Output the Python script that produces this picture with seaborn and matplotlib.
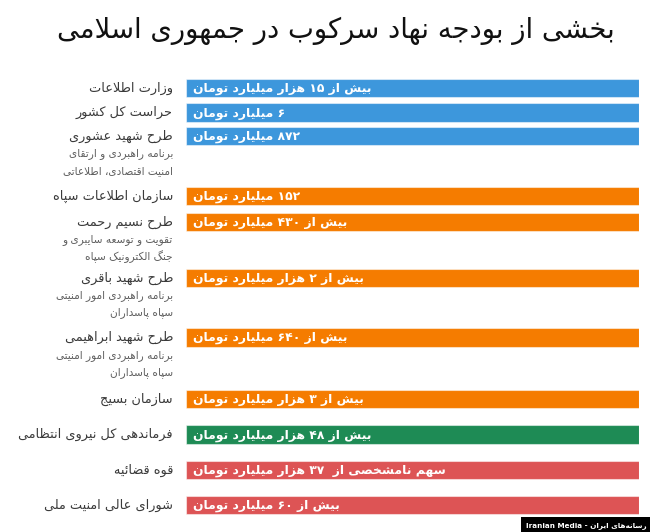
import numpy as np
import pandas as pd
import matplotlib
matplotlib.use("Agg")
import matplotlib.pyplot as plt
import seaborn as sns

# ---------------- data ----------------
title = "بخشی از بودجه نهاد سرکوب در جمهوری اسلامی"
organs = [
    "وزارت اطلاعات",
    "حراست کل کشور",
    "طرح شهید عشوری",
    "سازمان اطلاعات سپاه",
    "طرح نسیم رحمت",
    "طرح شهید باقری",
    "طرح شهید ابراهیمی",
    "سازمان بسیج",
    "فرماندهی کل نیروی انتظامی",
    "قوه قضائیه",
    "شورای عالی امنیت ملی",
]
notes = [
    [],
    [],
    ["برنامه راهبردی و ارتقای", "امنیت اقتصادی، اطلاعاتی"],
    [],
    ["تقویت و توسعه سایبری و", "جنگ الکترونیک سپاه"],
    ["برنامه راهبردی امور امنیتی", "سپاه پاسداران"],
    ["برنامه راهبردی امور امنیتی", "سپاه پاسداران"],
    [],
    [],
    [],
    [],
]
amounts = [
    "بیش از ۱۵ هزار میلیارد تومان",
    "۶ میلیارد تومان",
    "۸۷۲ میلیارد تومان",
    "۱۵۲ میلیارد تومان",
    "بیش از ۴۳۰ میلیارد تومان",
    "بیش از ۲ هزار میلیارد تومان",
    "بیش از ۶۴۰ میلیارد تومان",
    "بیش از ۳ هزار میلیارد تومان",
    "بیش از ۴۸ هزار میلیارد تومان",
    "سهم نامشخصی از  ۳۷ هزار میلیارد تومان",
    "بیش از ۶۰ میلیارد تومان",
]
groups = ["intel", "intel", "intel", "irgc", "irgc", "irgc", "irgc", "irgc",
          "police", "judiciary", "judiciary"]
bar_extent = [1, 1, 1, 1, 1, 1, 1, 1, 1, 1, 1]
credit_en = "Iranian Media"
credit_fa = "رسانه‌های ایران"

# ---------------- style / layout ----------------
palette = {"intel": "#3D97DC", "irgc": "#F57C00", "police": "#1E8B55", "judiciary": "#DD5455"}
W, H = 650, 532
first_center = 88
row_pitch = [24.5, 23.5, 60, 26, 56, 59.5, 61.5, 35.5, 35.5, 35]
bar_px = 18.5

# ---------------- minimal Persian shaping ----------------
_FORMS = {
    0x0621: (0xFE80, 1), 0x0622: (0xFE81, 2), 0x0623: (0xFE83, 2), 0x0624: (0xFE85, 2),
    0x0625: (0xFE87, 2), 0x0626: (0xFE89, 4), 0x0627: (0xFE8D, 2), 0x0628: (0xFE8F, 4),
    0x0629: (0xFE93, 2), 0x062A: (0xFE95, 4), 0x062B: (0xFE99, 4), 0x062C: (0xFE9D, 4),
    0x062D: (0xFEA1, 4), 0x062E: (0xFEA5, 4), 0x062F: (0xFEA9, 2), 0x0630: (0xFEAB, 2),
    0x0631: (0xFEAD, 2), 0x0632: (0xFEAF, 2), 0x0633: (0xFEB1, 4), 0x0634: (0xFEB5, 4),
    0x0635: (0xFEB9, 4), 0x0636: (0xFEBD, 4), 0x0637: (0xFEC1, 4), 0x0638: (0xFEC5, 4),
    0x0639: (0xFEC9, 4), 0x063A: (0xFECD, 4), 0x0641: (0xFED1, 4), 0x0642: (0xFED5, 4),
    0x0643: (0xFED9, 4), 0x0644: (0xFEDD, 4), 0x0645: (0xFEE1, 4), 0x0646: (0xFEE5, 4),
    0x0647: (0xFEE9, 4), 0x0648: (0xFEED, 2), 0x0649: (0xFEEF, 2), 0x064A: (0xFEF1, 4),
    0x067E: (0xFB56, 4), 0x0686: (0xFB7A, 4), 0x0698: (0xFB8A, 2), 0x06A9: (0xFB8E, 4),
    0x06AF: (0xFB92, 4), 0x06CC: (0xFBFC, 4),
}
_LAM_ALEF = {0x0627: 0xFEFB, 0x0622: 0xFEF5, 0x0623: 0xFEF7, 0x0625: 0xFEF9}


def _joining(c):
    return c is not None and ord(c) in _FORMS and _FORMS[ord(c)][1] >= 2


def _dual(c):
    return c is not None and ord(c) in _FORMS and _FORMS[ord(c)][1] == 4


def fa(s):
    chars = list(s)
    n = len(chars)
    out = []
    i = 0
    while i < n:
        c = chars[i]
        if ord(c) not in _FORMS:
            if c != "\u200c":
                out.append(c)
            i += 1
            continue
        prev = chars[i - 1] if i > 0 else None
        jp = _dual(prev) and _joining(c)
        if ord(c) == 0x0644 and i + 1 < n and ord(chars[i + 1]) in _LAM_ALEF:
            out.append(chr(_LAM_ALEF[ord(chars[i + 1])] + (1 if jp else 0)))
            i += 2
            continue
        nxt = chars[i + 1] if i + 1 < n else None
        jn = _dual(c) and _joining(nxt)
        base, k = _FORMS[ord(c)]
        if jp and jn:
            f = 3
        elif jp:
            f = 1
        elif jn:
            f = 2
        else:
            f = 0
        if f >= k:
            f = 1 if (jp and k >= 2) else 0
        out.append(chr(base + f))
        i += 1
    vis = out[::-1]
    # restore left-to-right order of digit runs
    res, run = [], []
    for ch in vis:
        if ch.isdigit():
            run.append(ch)
        else:
            if run:
                res.extend(run[::-1])
                run = []
            res.append(ch)
    if run:
        res.extend(run[::-1])
    return "".join(res)


# ---------------- figure ----------------
sns.set_theme(style="white")
plt.rcParams["font.family"] = ["DejaVu Sans"]

centers = np.concatenate([[first_center], first_center + np.cumsum(row_pitch)])
df = pd.DataFrame({"organ": organs, "extent": bar_extent, "pos": centers, "group": groups})

fig = plt.figure(figsize=(W / 100, H / 100), dpi=100)
ax = fig.add_axes([186 / W, 0, 453 / W, 1])
width = bar_px / np.min(np.diff(np.unique(centers)))
sns.barplot(data=df, x="extent", y="pos", hue="group", palette=palette, orient="y",
            native_scale=True, width=width, dodge=False, legend=False, ax=ax,
            saturation=1, edgecolor=(1, 1, 1, 0.5), linewidth=0.8)
ax.set_xlim(0, 1)
ax.set_ylim(H, 0)
ax.axis("off")

for y, amt in zip(centers, amounts):
    ax.text(0.016, y + 0.5, fa(amt), color="white", fontsize=8.9, fontweight="bold",
            ha="left", va="center")

lx = (173 - 186) / 453
for y, org, sub in zip(centers, organs, notes):
    ax.text(lx, y, fa(org), color="#3a3a3a", fontsize=9.3, ha="right", va="center",
            clip_on=False)
    for k, line in enumerate(sub):
        ax.text(lx, y + 18 + 17 * k, fa(line), color="#606060", fontsize=7.6,
                ha="right", va="center", clip_on=False)

fig.text(336 / W, 1 - 31 / H, fa(title), fontsize=19.8, color="#111111", ha="center", va="center")

fig.text(0.995, 0.006, credit_en + " - " + fa(credit_fa), fontsize=5.2, fontweight="bold",
         color="white", ha="right", va="bottom",
         bbox=dict(facecolor="black", edgecolor="none", boxstyle="square,pad=0.65"))

fig.savefig("out.png", dpi=100)
